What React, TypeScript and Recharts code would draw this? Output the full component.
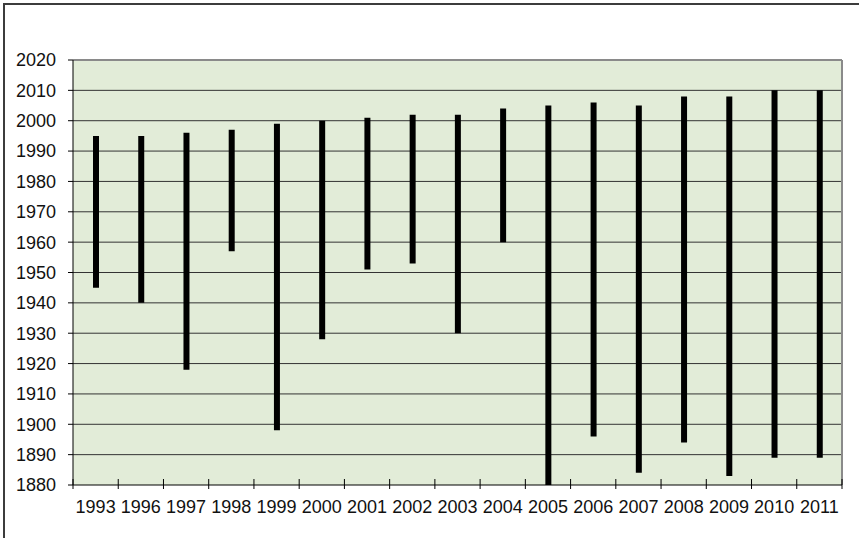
import React from "react";
import { BarChart, Bar, XAxis, YAxis, CartesianGrid } from "recharts";

const years = ["1993", "1996", "1997", "1998", "1999", "2000", "2001", "2002", "2003", "2004", "2005", "2006", "2007", "2008", "2009", "2010", "2011"];
const startYears = [1945, 1940, 1918, 1957, 1898, 1928, 1951, 1953, 1930, 1960, 1880, 1896, 1884, 1894, 1883, 1889, 1889];
const endYears = [1995, 1995, 1996, 1997, 1999, 2000, 2001, 2002, 2002, 2004, 2005, 2006, 2005, 2008, 2008, 2010, 2010];
const yTicks = [1880, 1890, 1900, 1910, 1920, 1930, 1940, 1950, 1960, 1970, 1980, 1990, 2000, 2010, 2020];

const data = years.map((y, i) => ({ year: y, range: [startYears[i], endYears[i]] }));

const W = 859;
const H = 538;
const M = { top: 60, right: 17, bottom: 23, left: 0 };
const YW = 73;
const XH = 30;
const plotW = W - M.left - M.right - YW;
const band = plotW / years.length;
const FONT = "'Liberation Sans', Arial, sans-serif";

const XTick = (props: any) => {
  const { x, y, payload, index } = props;
  const half = band / 2;
  return (
    <g>
      <line x1={x - half} x2={x - half} y1={y - 6} y2={y + 4} stroke="#000" strokeWidth={1} />
      {index === years.length - 1 && (
        <line x1={x + half} x2={x + half} y1={y - 6} y2={y + 4} stroke="#000" strokeWidth={1} />
      )}
      <text x={x} y={y + 15} dy="0.71em" textAnchor="middle" fontSize={18} fill="#111" fontFamily={FONT}>
        {payload.value}
      </text>
    </g>
  );
};

export default function App() {
  return (
    <div style={{ position: "absolute", left: 0, top: 0, width: W, height: H, overflow: "hidden", background: "#fff" }}>
      <div
        style={{
          position: "absolute",
          left: 3,
          top: 3,
          width: W + 20,
          height: H + 20,
          borderLeft: "2px solid #3c3c3c",
          borderTop: "2px solid #3c3c3c",
          boxSizing: "border-box",
        }}
      />
      <div style={{ position: "absolute", left: 0, top: 0 }}>
        <BarChart width={W} height={H} data={data} margin={M}>
          <CartesianGrid
            fill="#E2ECD8"
            stroke="#333"
            strokeWidth={1}
            vertical={false}
            horizontalCoordinatesGenerator={(p: any) => {
              const top = p.offset.top;
              const h = p.offset.height;
              return yTicks.slice(1, -1).map((t) => top + ((2020 - t) / 140) * h);
            }}
          />
          <CartesianGrid
            fill="none"
            stroke="#8a8a8a"
            strokeWidth={2}
            horizontalCoordinatesGenerator={(p: any) => [p.offset.top]}
            verticalCoordinatesGenerator={(p: any) => [p.offset.left + p.offset.width]}
          />
          <XAxis
            dataKey="year"
            type="category"
            height={XH}
            tick={<XTick />}
            tickLine={false}
            tickSize={0}
            tickMargin={0}
            axisLine={{ stroke: "#000", strokeWidth: 1 }}
            interval={0}
          />
          <YAxis
            type="number"
            domain={[1880, 2020]}
            ticks={yTicks}
            width={YW}
            tickSize={5}
            tickMargin={12}
            axisLine={{ stroke: "#000", strokeWidth: 1 }}
            tickLine={{ stroke: "#000", strokeWidth: 1 }}
            tick={{ fontSize: 18, fill: "#111", fontFamily: FONT }}
            interval={0}
            allowDataOverflow={true}
          />
          <Bar dataKey="range" fill="#000" barSize={6} isAnimationActive={false} />
        </BarChart>
      </div>
    </div>
  );
}
